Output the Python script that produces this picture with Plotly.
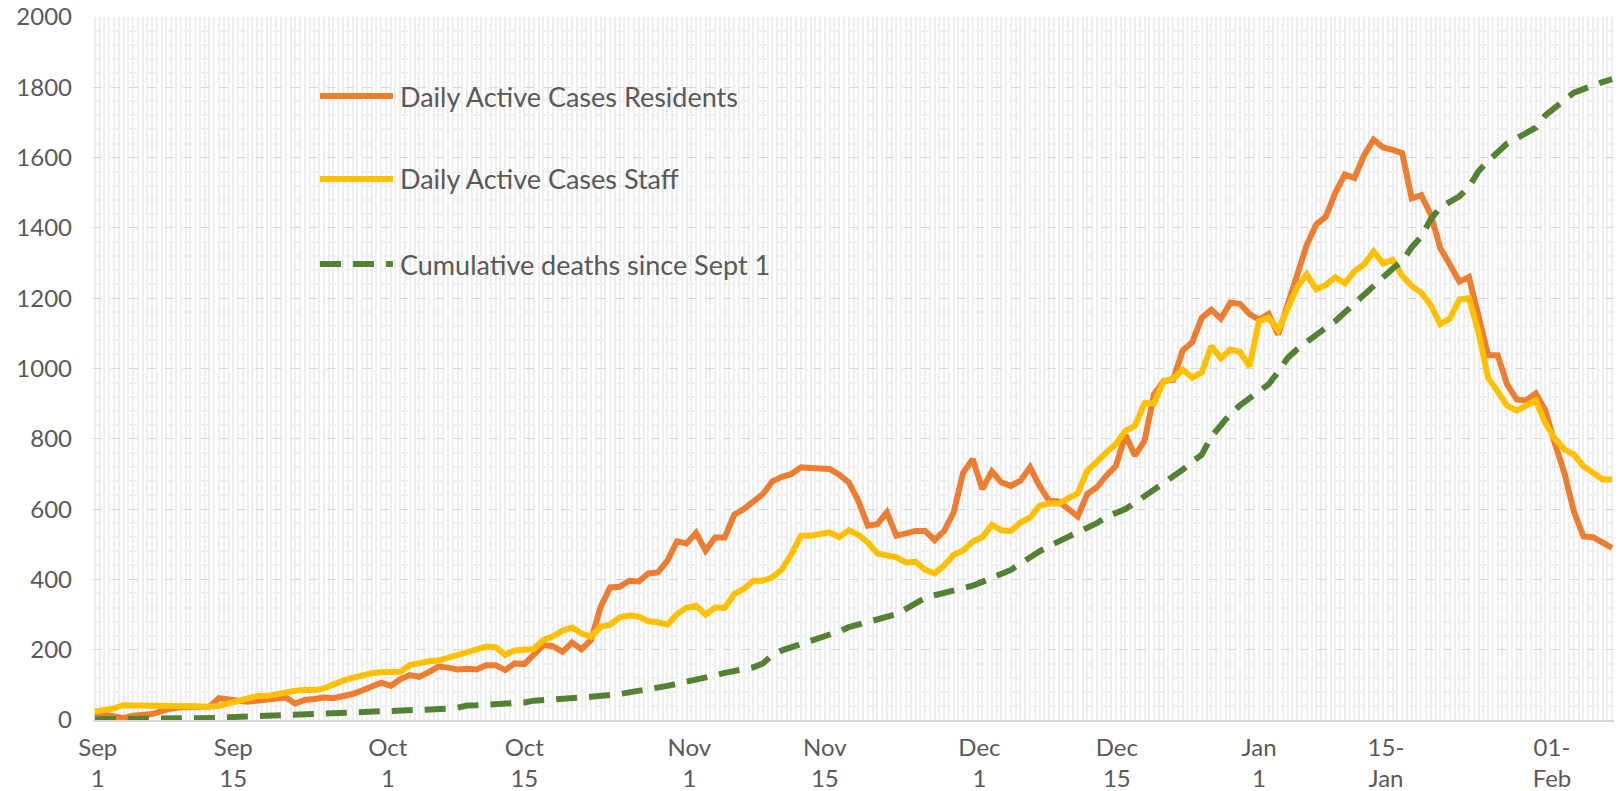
import plotly.graph_objects as go

# day index from Sep 1 (0) to Feb 7 (159)
residents = [
    20, 14, 10, 5, 12, 15, 17, 25, 33, 36,
    37, 37, 38, 62, 57, 55, 52, 54, 57, 60,
    64, 47, 57, 60, 64, 62, 66, 74, 84, 95,
    106, 97, 116, 128, 123, 136, 152, 149, 144, 146,
    144, 156, 156, 142, 161, 159, 185, 213, 210, 194,
    220, 201, 228, 322, 377, 379, 396, 394, 417, 420,
    453, 508, 502, 532, 482, 519, 519, 584, 600, 624,
    643, 679, 692, 700, 719, 717, 716, 714, 698, 676,
    624, 553, 557, 591, 524, 531, 538, 538, 512, 538,
    591, 704, 742, 657, 707, 676, 666, 681, 719, 666,
    624, 622, 600, 579, 643, 662, 695, 723, 811, 752,
    794, 927, 964, 968, 1051, 1075, 1144, 1167, 1142, 1187,
    1184, 1155, 1139, 1155, 1097, 1180, 1258, 1351, 1410, 1432,
    1500, 1552, 1542, 1606, 1651, 1629, 1622, 1613, 1484, 1493,
    1438, 1342, 1296, 1247, 1260, 1148, 1038, 1038, 955, 912,
    909, 929, 881, 787, 703, 593, 522, 520, 505, 490,
]

staff = [
    24, 28, 33, 42, 41, 42, 42, 40, 38, 39,
    40, 38, 38, 40, 47, 55, 62, 68, 68, 74,
    80, 83, 85, 85, 90, 102, 112, 120, 127, 133,
    136, 138, 137, 156, 162, 167, 169, 177, 185, 193,
    201, 209, 207, 185, 198, 201, 202, 228, 238, 254,
    263, 246, 237, 265, 271, 292, 297, 294, 281, 278,
    271, 301, 319, 325, 300, 320, 319, 358, 373, 396,
    396, 406, 429, 472, 524, 524, 530, 534, 520, 540,
    527, 505, 474, 469, 463, 448, 450, 427, 417, 439,
    470, 482, 508, 520, 555, 540, 538, 562, 576, 610,
    616, 616, 629, 645, 709, 738, 761, 785, 823, 837,
    901, 901, 964, 971, 997, 974, 989, 1064, 1029, 1054,
    1047, 1006, 1135, 1144, 1109, 1170, 1232, 1268, 1225, 1238,
    1260, 1242, 1277, 1296, 1333, 1299, 1309, 1264, 1235, 1216,
    1180, 1126, 1142, 1196, 1200, 1103, 974, 935, 894, 880,
    894, 909, 845, 800, 770, 755, 722, 703, 684, 684,
]

deaths = [
    2, 2, 2, 2, 2, 2, 3, 3, 3, 3,
    3, 4, 4, 6, 8, 9, 9, 10, 11, 11,
    12, 13, 14, 15, 16, 16, 17, 18, 19, 20,
    21, 22, 24, 25, 27, 29, 30, 32, 35, 41,
    42, 43, 44, 46, 47, 50, 55, 56, 58, 59,
    61, 64, 66, 67, 71, 74, 78, 83, 86, 91,
    97, 103, 108, 114, 120, 127, 134, 140, 145, 150,
    161, 185, 198, 207, 216, 223, 230, 240, 252, 264,
    272, 280, 289, 295, 301, 316, 332, 347, 355, 361,
    368, 374, 382, 393, 405, 418, 427, 445, 465, 480,
    495, 508, 518, 530, 545, 560, 578, 590, 600, 618,
    636, 655, 672, 690, 712, 735, 755, 806, 840, 871,
    895, 915, 930, 955, 990, 1030, 1055, 1077, 1098, 1116,
    1135, 1160, 1185, 1210, 1238, 1262, 1284, 1305, 1345, 1375,
    1425, 1458, 1475, 1490, 1516, 1561, 1590, 1613, 1640, 1655,
    1668, 1685, 1720, 1740, 1765, 1785, 1795, 1806, 1815, 1823,
]

series_names = ["Daily Active Cases Residents", "Daily Active Cases Staff",
                "Cumulative deaths since Sept 1"]
tick_labels = ["Sep<br>1", "Sep<br>15", "Oct<br>1", "Oct<br>15", "Nov<br>1",
               "Nov<br>15", "Dec<br>1", "Dec<br>15", "Jan<br>1", "15-<br>Jan",
               "01-<br>Feb"]
tick_positions = [0.3, 14.5, 30.7, 45.0, 62.3, 76.5, 92.7, 107.1, 122.0, 135.3, 152.7]

days = list(range(len(residents)))

ORANGE = "#ED7D31"
YELLOW = "#FFC000"
GREEN = "#548235"
TXT = "#595959"
FONT = "Lato"
LW = 6

fig = go.Figure()
fig.add_trace(go.Scatter(x=days, y=residents, mode="lines", name=series_names[0],
                         line=dict(color=ORANGE, width=LW)))
fig.add_trace(go.Scatter(x=days, y=staff, mode="lines", name=series_names[1],
                         line=dict(color=YELLOW, width=LW)))
fig.add_trace(go.Scatter(x=days, y=deaths, mode="lines", name=series_names[2],
                         line=dict(color=GREEN, width=LW, dash="21px,12px")))

fig.update_layout(
    width=1624, height=791,
    margin=dict(l=93, r=10, t=17, b=71, autoexpand=False),
    paper_bgcolor="white", plot_bgcolor="white",
    showlegend=False,
    font=dict(family=FONT, color=TXT, size=24),
)
fig.update_xaxes(
    range=[-0.2, 159.2], automargin=False,
    tickmode="array", tickvals=tick_positions, ticktext=tick_labels,
    showgrid=False, zeroline=False,
    showline=True, linecolor="#D9D9D9", linewidth=1.5,
    ticks="", ticklabelstandoff=5, ticklabeloverflow="allow",
    tickfont=dict(family=FONT, size=24, color=TXT),
    minor=dict(tickmode="linear", tick0=0, dtick=0.5, showgrid=True,
               gridcolor="#EEEEEE", gridwidth=1.5),
)
fig.update_yaxes(
    range=[0, 2000], tickmode="linear", tick0=0, dtick=200, automargin=False,
    showgrid=True, gridcolor="#D9D9D9", gridwidth=1, griddash="dash",
    zeroline=False, showline=False, ticks="", ticklabelstandoff=20,
    ticklabeloverflow="allow",
    tickfont=dict(family=FONT, size=24, color=TXT),
    minor=dict(tickmode="linear", tick0=0, dtick=40, showgrid=True,
               gridcolor="#F0F0F0", gridwidth=1.5),
)

# manual legend inside the plot area
leg_y = [0.8876, 0.7696, 0.6486]
leg_colors = [ORANGE, YELLOW, GREEN]
leg_dash = ["solid", "solid", "21px,12px"]
for name, yy, col, dsh in zip(series_names, leg_y, leg_colors, leg_dash):
    fig.add_shape(type="line", xref="paper", yref="paper",
                  x0=0.1492, x1=0.1972, y0=yy, y1=yy,
                  line=dict(color=col, width=LW, dash=dsh))
    fig.add_annotation(xref="paper", yref="paper", x=0.2005, y=yy,
                       text=name, showarrow=False, xanchor="left", yanchor="middle",
                       font=dict(family=FONT, size=27, color=TXT))

# remove the default page margin so the figure fills the window exactly
fig.write_html("out.html",
               config={"displayModeBar": False},
               post_script="document.body.style.margin='0';"
                           "document.body.style.overflow='hidden';")
